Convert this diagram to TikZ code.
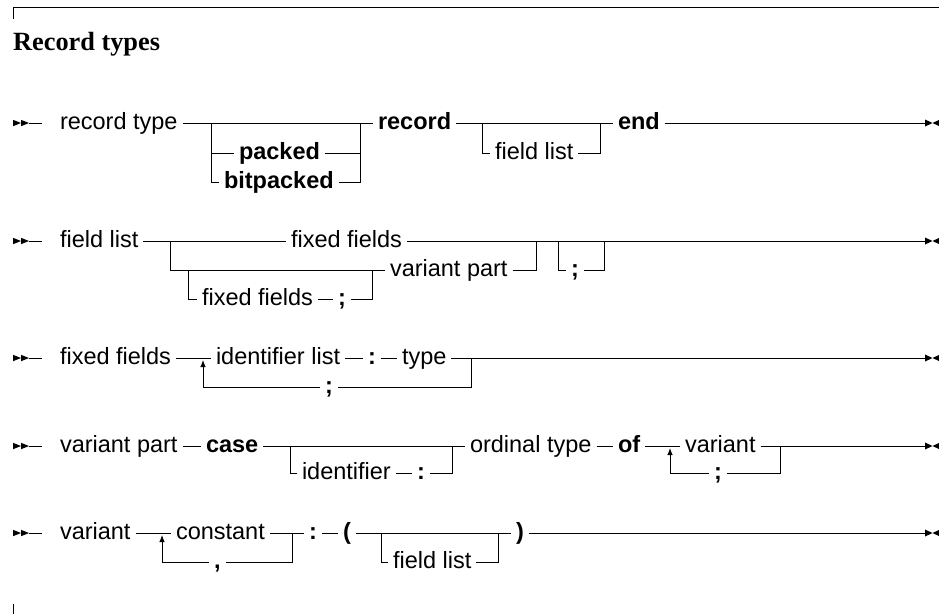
\documentclass[tikz,border=0pt]{standalone}
\usepackage{fontspec}
\setmainfont{Liberation Sans}
\newfontfamily\titlefont{Liberation Serif}
\usetikzlibrary{arrows.meta}
\begin{document}
\fontsize{23.5}{28}\selectfont
\begin{tikzpicture}[x=1pt,y=-1pt,
  tok/.style={inner sep=0pt, outer xsep=5pt, outer ysep=0pt, anchor=mid west},
  kw/.style={tok, font=\bfseries},
  conn/.style={line width=0.9pt, line join=miter},
  loopconn/.style={conn, -{Latex[length=7pt,width=5.5pt]}},
  startmark/.pic={\fill (0,-3.2)--(8,0)--(0,3.2)--cycle (8,-3.2)--(16,0)--(8,3.2)--cycle;},
  endmark/.pic={\fill (0,-3.5)--(7.5,0)--(0,3.5)--cycle (14,-3)--(7.5,0)--(14,3)--cycle;},
  ]
\useasboundingbox (0,0) rectangle (939,614);
% frame
\draw[conn] (13,19) -- (13,7.5) -- (939,7.5);
\draw[conn] (13,604) -- (13,614);
\node[anchor=base west, inner sep=0pt, font=\titlefont\bfseries\fontsize{26.3}{30}\selectfont] (title) at (13,50) {Record types};

% ---------------- Row 1
\pic at (13,123) {startmark};
\coordinate (s1) at (29,123);
\coordinate (e1) at (925,123);
\pic at (e1) {endmark};
\node[tok] (rt) at (55,123) {record type};
\node[kw] (pk) at (234,153) {packed};
\node[kw] (bp) at (219,182) {bitpacked};
\node[kw] (rec) at (373,123) {record};
\node[tok] (fl1) at (490,153) {field list};
\node[kw] (endk) at (613,123) {end};
\coordinate (j1a) at (211,123);
\coordinate (j1b) at (360,123);
\coordinate (j1c) at (482,123);
\coordinate (j1d) at (600,123);
\draw[conn, shorten >=13pt] (s1) -- (rt.mid west);
\draw[conn] (rt.mid east) -- (rec.mid west);
\draw[conn] (j1a) |- (pk.mid west);
\draw[conn] (j1a) |- (bp.mid west);
\draw[conn] (pk.mid east) -| (j1b);
\draw[conn] (bp.mid east) -| (j1b);
\draw[conn] (rec.mid east) -- (endk.mid west);
\draw[conn] (j1c) |- (fl1.mid west);
\draw[conn] (fl1.mid east) -| (j1d);
\draw[conn] (endk.mid east) -- (e1);

% ---------------- Row 2
\pic at (13,241) {startmark};
\coordinate (s2) at (29,241);
\coordinate (e2) at (925,241);
\pic at (e2) {endmark};
\node[tok] (fl2) at (55,241) {field list};
\node[tok] (ff1) at (286,241) {fixed fields};
\node[tok] (vp) at (385,270) {variant part};
\node[tok] (ff2) at (197,299) {fixed fields};
\node[kw] (sc1) at (333,299) {;};
\node[kw] (sc2) at (566,270) {;};
\coordinate (j2a) at (170,241);
\coordinate (j2b) at (188,270);
\coordinate (j2c) at (372,270);
\coordinate (j2d) at (536,241);
\coordinate (j2e) at (558,241);
\coordinate (j2f) at (604,241);
\draw[conn, shorten >=13pt] (s2) -- (fl2.mid west);
\draw[conn] (fl2.mid east) -- (ff1.mid west);
\draw[conn] (ff1.mid east) -- (e2);
\draw[conn] (j2a) |- (vp.mid west);
\draw[conn] (j2b) |- (ff2.mid west);
\draw[conn] (ff2.mid east) -- (sc1.mid west);
\draw[conn] (sc1.mid east) -| (j2c);
\draw[conn] (vp.mid east) -| (j2d);
\draw[conn] (j2e) |- (sc2.mid west);
\draw[conn] (sc2.mid east) -| (j2f);

% ---------------- Row 3
\pic at (13,358) {startmark};
\coordinate (s3) at (29,358);
\coordinate (e3) at (925,358);
\pic at (e3) {endmark};
\node[tok] (ffx) at (55,358) {fixed fields};
\node[tok] (il) at (211,358) {identifier list};
\node[kw] (c1) at (363,358) {:};
\node[tok] (ty) at (397,358) {type};
\node[kw] (sc3) at (320,387) {;};
\coordinate (j3a) at (203,360);
\coordinate (j3b) at (471,358);
\draw[conn, shorten >=13pt] (s3) -- (ffx.mid west);
\draw[conn] (ffx.mid east) -- (il.mid west);
\draw[conn] (il.mid east) -- (c1.mid west);
\draw[conn] (c1.mid east) -- (ty.mid west);
\draw[conn] (ty.mid east) -- (e3);
\draw[conn] (j3b) |- (sc3.mid east);
\draw[loopconn] (sc3.mid west) -| (j3a);

% ---------------- Row 4
\pic at (13,446) {startmark};
\coordinate (s4) at (29,446);
\coordinate (e4) at (925,446);
\pic at (e4) {endmark};
\node[tok] (vp2) at (55,446) {variant part};
\node[kw] (cs) at (201,446) {case};
\node[tok] (id) at (297,473) {identifier};
\node[kw] (c2) at (412,473) {:};
\node[tok] (ot) at (465,446) {ordinal type};
\node[kw] (of) at (613,446) {of};
\node[tok] (va) at (680,446) {variant};
\node[kw] (sc4) at (709,473) {;};
\coordinate (j4a) at (290,446);
\coordinate (j4b) at (452,446);
\coordinate (j4c) at (670,448);
\coordinate (j4d) at (780,446);
\draw[conn, shorten >=13pt] (s4) -- (vp2.mid west);
\draw[conn] (vp2.mid east) -- (cs.mid west);
\draw[conn] (cs.mid east) -- (ot.mid west);
\draw[conn] (j4a) |- (id.mid west);
\draw[conn] (id.mid east) -- (c2.mid west);
\draw[conn] (c2.mid east) -| (j4b);
\draw[conn] (ot.mid east) -- (of.mid west);
\draw[conn] (of.mid east) -- (va.mid west);
\draw[conn] (va.mid east) -- (e4);
\draw[conn] (j4d) |- (sc4.mid east);
\draw[loopconn] (sc4.mid west) -| (j4c);

% ---------------- Row 5
\pic at (13,533) {startmark};
\coordinate (s5) at (29,533);
\coordinate (e5) at (925,533);
\pic at (e5) {endmark};
\node[tok] (va2) at (55,533) {variant};
\node[tok] (ct) at (171,533) {constant};
\node[kw] (cm) at (209,562) {,};
\node[kw] (c3) at (304,533) {:};
\node[kw] (lp) at (338,533) {(};
\node[tok] (fl3) at (388,562) {field list};
\node[kw] (rp) at (511,533) {)};
\coordinate (j5a) at (162,535);
\coordinate (j5b) at (292,533);
\coordinate (j5c) at (381,533);
\coordinate (j5d) at (498,533);
\draw[conn, shorten >=13pt] (s5) -- (va2.mid west);
\draw[conn] (va2.mid east) -- (ct.mid west);
\draw[conn] (ct.mid east) -- (c3.mid west);
\draw[conn] (j5b) |- (cm.mid east);
\draw[loopconn] (cm.mid west) -| (j5a);
\draw[conn] (c3.mid east) -- (lp.mid west);
\draw[conn] (lp.mid east) -- (rp.mid west);
\draw[conn] (j5c) |- (fl3.mid west);
\draw[conn] (fl3.mid east) -| (j5d);
\draw[conn] (rp.mid east) -- (e5);
\end{tikzpicture}
\end{document}
